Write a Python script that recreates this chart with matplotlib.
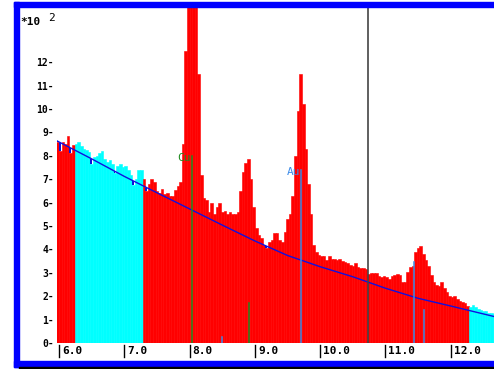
import numpy as np
import matplotlib
matplotlib.use('Agg')
import matplotlib.pyplot as plt
from matplotlib.patches import Rectangle
from matplotlib.transforms import blended_transform_factory

W, H = 494, 369

# spectrum: channels of 0.04 keV starting at 5.96 keV, counts in units of 100
e_start = 5.96
e_step = 0.04
counts = [
    8.6, 8.2, 8.6, 8.5, 8.85, 8.1, 8.45, 8.5, 8.6, 8.4,        # 5.96
    8.3, 8.25, 8.15, 7.65, 7.95, 8.0, 8.1, 8.2, 7.85, 7.75,     # 6.36
    7.8, 7.65, 7.25, 7.55, 7.65, 7.5, 7.55, 7.4, 7.2, 6.75,     # 6.76
    7.0, 7.4, 7.4, 7.0, 6.5, 6.8, 7.0, 6.9, 6.5, 6.4,           # 7.16
    6.6, 6.35, 6.4, 6.3, 6.3, 6.55, 6.7, 6.9, 8.5, 12.5,        # 7.56
    15.8, 17.0, 16.5, 15.0, 11.5, 7.2, 6.2, 6.1, 5.6, 6.0,      # 7.96
    5.5, 5.8, 6.0, 5.6, 5.65, 5.5, 5.6, 5.5, 5.5, 5.6,          # 8.36
    6.5, 7.3, 7.7, 7.85, 7.0, 5.8, 4.9, 4.6, 4.5, 4.2,          # 8.76
    4.05, 4.3, 4.4, 4.7, 4.7, 4.4, 4.3, 4.75, 5.3, 5.5,         # 9.16
    6.3, 8.0, 9.9, 11.5, 10.2, 8.3, 6.8, 5.5, 4.2, 3.9,         # 9.56
    3.75, 3.7, 3.7, 3.55, 3.7, 3.6, 3.6, 3.55, 3.6, 3.5,        # 9.96
    3.45, 3.4, 3.35, 3.3, 3.4, 3.25, 3.2, 3.2, 3.15, 2.95,      # 10.36
    3.0, 3.0, 3.0, 2.85, 2.8, 2.85, 2.8, 2.75, 2.85, 2.9,       # 10.76
    2.95, 2.9, 2.6, 2.6, 3.05, 3.25, 3.3, 3.9, 4.05, 4.15,      # 11.16
    3.8, 3.55, 3.3, 2.9, 2.6, 2.5, 2.45, 2.6, 2.35, 2.2,        # 11.56
    2.0, 1.95, 2.0, 1.9, 1.8, 1.75, 1.7, 1.6, 1.55, 1.62,       # 11.96
    1.55, 1.45, 1.4, 1.35, 1.35, 1.3, 1.3, 1.25,                # 12.36
]

# background fit windows (drawn cyan)
roi_lo = [6.24, 12.28]
roi_hi = [7.28, 12.68]

# fitted background curve
bg_e = [5.96, 6.5, 7.0, 7.5, 8.0, 8.5, 9.0, 9.5, 10.0, 10.5, 11.0, 11.5, 12.0, 12.68]
bg_v = [8.65, 7.87, 7.12, 6.42, 5.73, 5.04, 4.36, 3.74, 3.26, 2.83, 2.34, 1.91, 1.58, 1.12]

# element line markers
mark_e = [8.040, 8.905, 8.494, 9.713, 11.442, 11.585]
mark_h = [8.0, 1.72, 0.26, 7.39, 3.47, 1.41]
mark_el = ['Cu', 'Cu', 'Au', 'Au', 'Au', 'Au']
label_el = ['Cu', 'Au']
label_e = [8.040, 9.713]
label_h = [8.0, 7.39]
cursor_e = 10.73

yticks = [0, 1, 2, 3, 4, 5, 6, 7, 8, 9, 10, 11, 12]
xticks = [6.0, 7.0, 8.0, 9.0, 10.0, 11.0, 12.0]

el_color = {'Cu': '#1f8a1f', 'Au': '#3a8ae8'}

plt.rcParams['font.family'] = ['DejaVu Sans Mono']
plt.rcParams['font.weight'] = 'bold'

# pixel layout
px_kev = 65.3
px_unit = 23.4
px_6 = 59
left_px, right_px, top_px, bot_px = 57, 494, 2, 343


def fx(px):
    return px / W


def fy(py):
    return 1 - py / H


fig = plt.figure(figsize=(W / 100, H / 100), dpi=100)
ax = fig.add_axes([fx(left_px), fy(bot_px), (right_px - left_px) / W, (bot_px - top_px) / H])
ax.set_xlim(6 + (left_px - px_6) / px_kev, 6 + (right_px - px_6) / px_kev)
ax.set_ylim(0, (bot_px - top_px) / px_unit)

counts = np.array(counts)
left = e_start + e_step * np.arange(len(counts))
centers = left + e_step / 2
in_roi = np.zeros(len(counts), bool)
for lo, hi in zip(roi_lo, roi_hi):
    in_roi |= (left >= lo - 1e-6) & (left < hi - 1e-6)
colors = np.where(in_roi, '#00ffff', '#ff0000')

ax.bar(left, counts, width=e_step, align='edge', color=colors, edgecolor=colors,
       linewidth=0.4, zorder=2)

bg_c = np.interp(centers, bg_e, bg_v)
dip = bg_c > counts
ax.bar(left[dip], (bg_c - counts)[dip], bottom=counts[dip], width=e_step * 0.6,
       align='edge', color='#1010d8', linewidth=0, zorder=3)
ax.plot(bg_e, bg_v, color='#1010e0', lw=1.0, zorder=4)

for e, h, el in zip(mark_e, mark_h, mark_el):
    ax.plot([e, e], [0, h], color=el_color[el], lw=1.1, zorder=5)
for el, e, h in zip(label_el, label_e, label_h):
    ax.text(e - 0.02, h + 0.12, el, color=el_color[el], ha='right', va='top',
            fontsize=8, fontweight='normal', zorder=6)

ax.axvline(cursor_e, color='#444444', lw=1.2, zorder=5)

ax.set_yticks(yticks, labels=[f"{t}-" for t in yticks])
ax.tick_params(axis='y', length=0, pad=2.0, labelsize=7)
ax.set_xticks([])
for s in ax.spines.values():
    s.set_visible(False)

tr = blended_transform_factory(ax.transData, fig.transFigure)
for t in xticks:
    ax.plot([t, t], [fy(345), fy(357)], transform=tr, color='black', lw=1.0, clip_on=False)
    ax.text(t + 3 / px_kev, fy(351), f"{t:.1f}", transform=tr, ha='left', va='center',
            fontsize=8)

fig.text(fx(20), fy(22), "*10", ha='left', va='center', fontsize=8)
fig.text(fx(48), fy(18), "2", ha='left', va='center', fontsize=8, fontweight='normal')

# frame
fig.patches.append(Rectangle((fx(14), fy(7)), 1 - fx(14), 5 / H, transform=fig.transFigure,
                             color='#0000ff', zorder=10))
fig.patches.append(Rectangle((fx(14), fy(367)), 5 / W, 365 / H, transform=fig.transFigure,
                             color='#0000ff', zorder=10))
fig.patches.append(Rectangle((fx(14), fy(367)), 1 - fx(14), 6 / H, transform=fig.transFigure,
                             color='#0000ff', zorder=10))
fig.patches.append(Rectangle((fx(19), 0), 1 - fx(19), 2 / H, transform=fig.transFigure,
                             color='#000000', zorder=10))

fig.savefig('out.png', dpi=100)
